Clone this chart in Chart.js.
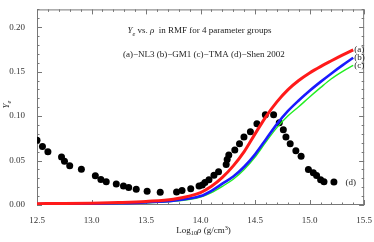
<!DOCTYPE html>
<html>
<head>
<meta charset="utf-8">
<script src="https://cdn.jsdelivr.net/npm/chart.js@4.4.1/dist/chart.umd.min.js"></script>
<style>
  html, body { margin: 0; padding: 0; background: #fff; }
  #wrap { width: 374px; height: 242px; }
</style>
</head>
<body>
<div id="wrap"><canvas id="c" width="374" height="242"></canvas></div>
<script>
// log10 density grid for the RMF curves
const rhoGrid = [12.5, 12.75, 13.0, 13.25, 13.5, 13.75, 14.0, 14.1, 14.2, 14.3, 14.4,
  14.5, 14.6, 14.7, 14.8, 14.9, 15.0, 15.1, 15.2, 15.3, 15.4];
const yeNL3 = [0.0015, 0.0017, 0.0021, 0.0028, 0.0040, 0.0065, 0.014, 0.021, 0.031, 0.044, 0.060,
  0.080, 0.0995, 0.116, 0.1295, 0.1400, 0.1485, 0.1557, 0.1622, 0.1685, 0.1745];
const yeGM1 = [0.0010, 0.0012, 0.0015, 0.0020, 0.0030, 0.0048, 0.010, 0.016, 0.024, 0.032, 0.043,
  0.057, 0.074, 0.091, 0.1055, 0.1175, 0.1285, 0.1385, 0.1480, 0.1570, 0.1656];
const yeTMA = [0.0008, 0.0010, 0.0012, 0.0017, 0.0026, 0.0042, 0.009, 0.014, 0.021, 0.029, 0.040,
  0.054, 0.071, 0.087, 0.100, 0.1105, 0.1215, 0.1320, 0.1420, 0.1500, 0.157];

// Shen 2002 points
const shenRho = [12.5, 12.55, 12.6, 12.725, 12.752, 12.8, 12.907, 13.035, 13.086, 13.135,
  13.227, 13.293, 13.341, 13.41, 13.51, 13.63, 13.78, 13.83, 13.91, 13.986,
  14.016, 14.04, 14.077, 14.123, 14.165, 14.235, 14.244, 14.259, 14.314, 14.357,
  14.398, 14.457, 14.517, 14.594, 14.67, 14.722, 14.759, 14.783, 14.822, 14.874,
  14.922, 14.989, 15.034, 15.064, 15.101, 15.132, 15.223];
const shenYe = [0.0728, 0.0659, 0.0599, 0.0541, 0.0491, 0.0441, 0.0401, 0.0330, 0.0287, 0.0261,
  0.0237, 0.0215, 0.0196, 0.0176, 0.0154, 0.0143, 0.0145, 0.0163, 0.0183, 0.0215,
  0.0226, 0.0252, 0.0285, 0.0335, 0.0375, 0.0455, 0.0513, 0.0561, 0.0620, 0.0690,
  0.0765, 0.0824, 0.0914, 0.1014, 0.1014, 0.0925, 0.0845, 0.0766, 0.0690, 0.0609,
  0.0548, 0.0398, 0.0362, 0.0333, 0.0283, 0.0261, 0.0258];

const xTicks = [12.5, 13.0, 13.5, 14.0, 14.5, 15.0, 15.5];
const yTicks = [0.00, 0.05, 0.10, 0.15, 0.20];

const SERIF = "'Liberation Serif', 'DejaVu Serif', serif";
const pts = (xs, ys) => xs.map((x, i) => ({ x, y: ys[i] }));

// draw a run of text pieces: {t, it, sub, sup}
function runText(ctx, pieces, x, y, size, align) {
  const font = (p) => `${p.it ? "italic " : ""}${p.sub || p.sup ? size * 0.7 : size}px ${SERIF}`;
  let w = 0;
  pieces.forEach((p) => { ctx.font = font(p); w += ctx.measureText(p.t).width; });
  let cx = align === "center" ? x - w / 2 : x;
  ctx.textBaseline = "alphabetic";
  ctx.textAlign = "left";
  pieces.forEach((p) => {
    ctx.font = font(p);
    const dy = p.sub ? size * 0.25 : p.sup ? -size * 0.38 : 0;
    ctx.fillText(p.t, cx, y + dy);
    cx += ctx.measureText(p.t).width;
  });
}

const framePlugin = {
  id: "frame",
  beforeDatasetsDraw(chart) {
    const { ctx, chartArea: a, scales } = chart;
    ctx.save();
    ctx.strokeStyle = "#777";
    ctx.lineWidth = 1;
    ctx.strokeRect(a.left + 0.5, a.top + 0.5, a.right - a.left - 1, a.bottom - a.top - 1);
    ctx.beginPath();
    for (let i = 0; i <= 30; i++) {
      const v = 12.5 + i * 0.1;
      const px = Math.round(scales.x.getPixelForValue(v)) + 0.5;
      const len = i % 5 === 0 ? 5 : 2.5;
      ctx.moveTo(px, a.bottom); ctx.lineTo(px, a.bottom - len);
      ctx.moveTo(px, a.top); ctx.lineTo(px, a.top + len);
    }
    for (let i = 0; i <= 22; i++) {
      const v = i * 0.01;
      const py = Math.round(scales.y.getPixelForValue(v)) + 0.5;
      const len = i % 5 === 0 ? 5 : 2.5;
      ctx.moveTo(a.left, py); ctx.lineTo(a.left + len, py);
      ctx.moveTo(a.right, py); ctx.lineTo(a.right - len, py);
    }
    ctx.stroke();
    ctx.restore();
  },
  afterDatasetsDraw(chart) {
    const { ctx, chartArea: a, scales } = chart;
    const X = (v) => scales.x.getPixelForValue(v);
    const Y = (v) => scales.y.getPixelForValue(v);
    ctx.save();
    ctx.fillStyle = "#222";
    runText(ctx, [{ t: "Y", it: 1 }, { t: "e", it: 1, sub: 1 }, { t: " vs. " }, { t: "ρ", it: 1 },
      { t: "  in RMF for 4 parameter groups" }], X(13.99), Y(0.193), 9, "center");
    runText(ctx, [{ t: "(a)−NL3 (b)−GM1 (c)−TMA (d)−Shen 2002" }], X(14.03), Y(0.167), 9, "center");
    runText(ctx, [{ t: "(a)" }], X(15.41), Y(0.172), 9, "left");
    runText(ctx, [{ t: "(b)" }], X(15.41), Y(0.163), 9, "left");
    runText(ctx, [{ t: "(c)" }], X(15.41), Y(0.154), 9, "left");
    runText(ctx, [{ t: "(d)" }], X(15.33), Y(0.022), 9, "left");
    runText(ctx, [{ t: "Log" }, { t: "10", sub: 1 }, { t: "ρ", it: 1 }, { t: " (g/cm" }, { t: "3", sup: 1 }, { t: ")" }],
      (a.left + a.right) / 2 + 3, 233, 9, "center");
    ctx.translate(9, Y(0.113));
    ctx.rotate(-Math.PI / 2);
    runText(ctx, [{ t: "Y", it: 1 }, { t: "e", it: 1, sub: 1 }], 0, 0, 9, "center");
    ctx.restore();
  },
};

new Chart(document.getElementById("c"), {
  type: "scatter",
  data: {
    datasets: [
      { label: "(a) NL3", data: pts(rhoGrid, yeNL3), showLine: true, borderColor: "#ff1a1a",
        borderWidth: 3, pointRadius: 0, cubicInterpolationMode: "monotone" },
      { label: "(b) GM1", data: pts(rhoGrid, yeGM1), showLine: true, borderColor: "#1a1aff",
        borderWidth: 2.6, pointRadius: 0, cubicInterpolationMode: "monotone" },
      { label: "(c) TMA", data: pts(rhoGrid, yeTMA), showLine: true, borderColor: "#22ee22",
        borderWidth: 1.4, pointRadius: 0, cubicInterpolationMode: "monotone" },
      { label: "(d) Shen 2002", data: pts(shenRho, shenYe), showLine: false,
        pointRadius: 3.5, pointBackgroundColor: "#000", pointBorderWidth: 0, borderColor: "#000" },
    ],
  },
  options: {
    responsive: false,
    animation: false,
    events: [],
    layout: { padding: { top: 1, right: 8, left: 0, bottom: 0 } },
    plugins: { legend: { display: false }, tooltip: { enabled: false } },
    scales: {
      x: {
        type: "linear", min: 12.5, max: 15.5,
        afterBuildTicks: (s) => { s.ticks = xTicks.map((v) => ({ value: v })); },
        afterFit: (s) => { s.height = 37; },
        grid: { display: false }, border: { display: false },
        ticks: { padding: 2, color: "#333", font: { family: SERIF, size: 9 },
          callback: (v) => v.toFixed(1) },
      },
      y: {
        type: "linear", min: 0, max: 0.22,
        afterBuildTicks: (s) => { s.ticks = yTicks.map((v) => ({ value: v })); },
        afterFit: (s) => { s.width = 37; },
        grid: { display: false }, border: { display: false },
        ticks: { padding: 4, color: "#333", font: { family: SERIF, size: 9 },
          callback: (v) => v.toFixed(2) },
      },
    },
  },
  plugins: [framePlugin],
});
</script>
</body>
</html>
